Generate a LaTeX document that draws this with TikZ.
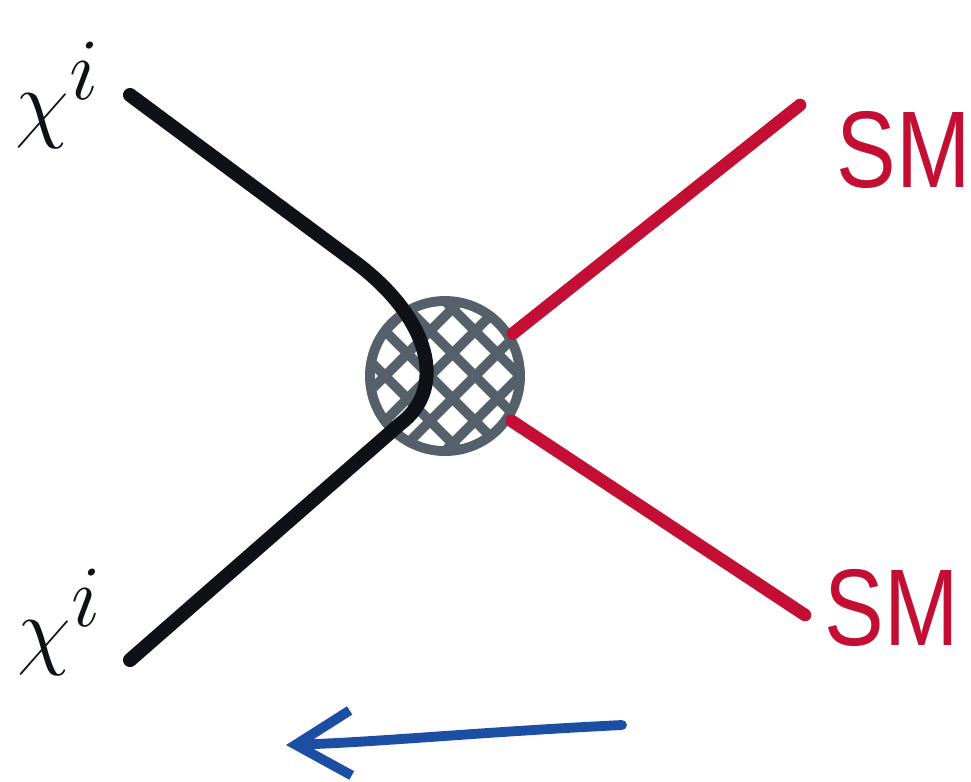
\documentclass[tikz,border=0pt]{standalone}
\usepackage{fontspec}
\setsansfont{Liberation Sans}
\usetikzlibrary{arrows.meta,positioning,calc}
\definecolor{chiink}{HTML}{0E1216}
\definecolor{smred}{HTML}{C40F34}
\definecolor{blobgray}{HTML}{55606A}
\definecolor{arrblue}{HTML}{1C4FA3}
\tikzset{
  chiline/.style={line width=4pt, color=chiink, line cap=round},
  smline/.style={line width=3.6pt, color=smred, line cap=round},
  blob/.style={circle, draw=blobgray, line width=2.8pt, minimum size=1.5cm, inner sep=0pt},
  hatch/.style={line width=2.8pt, color=blobgray},
  chilbl/.style={font=\fontsize{56}{58}\selectfont, color=chiink, inner sep=0pt},
  smlbl/.style={font=\sffamily\fontsize{31}{32}\selectfont, color=smred, inner sep=0pt, xscale=0.82, transform shape},
  flow/.style={-{Straight Barb[length=5.5mm, width=6.5mm, line width=2.8pt]}, line width=2.8pt, color=arrblue, line cap=round},
}
\begin{document}
\begin{tikzpicture}[x=0.01cm, y=-0.01cm]
  \useasboundingbox (0,0) rectangle (971,781);
  % blob and hatching
  \node[blob] (vtx) at (445,376) {};
  \begin{scope}
    \clip (vtx.center) circle (75);
    \foreach \o in {-150,-105,...,150} {
      \draw[hatch] (vtx.center) ++(\o-110,-110) -- ++(220,220);
      \draw[hatch] (vtx.center) ++(\o-110,110) -- ++(220,-220);
    }
  \end{scope}
  % external legs
  \coordinate (chiA) at (130,95);
  \coordinate (chiB) at (130,660);
  \coordinate (smA) at (800,105);
  \coordinate (smB) at (805,615);
  \draw[chiline] (chiA) -- (355,262) .. controls (430,318) and (448,388) .. (400,424) -- (chiB);
  \draw[smline] (vtx.32) -- (smA);
  \draw[smline] (vtx.-34) -- (smB);
  % labels
  \node[chilbl] (chitop) at (58,95) {$\chi^i$};
  \node[chilbl] (chibot) at (60,622) {$\chi^i$};
  \node[smlbl, anchor=west] (smtop) at (836,150) {SM};
  \node[smlbl, anchor=west] (smbot) at (824,608) {SM};
  % direction
  \coordinate (arrS) at (622,725);
  \coordinate (arrE) at (286,745);
  \draw[flow] (arrS) .. controls (480,732) and (380,742) .. (arrE);
\end{tikzpicture}
\end{document}
